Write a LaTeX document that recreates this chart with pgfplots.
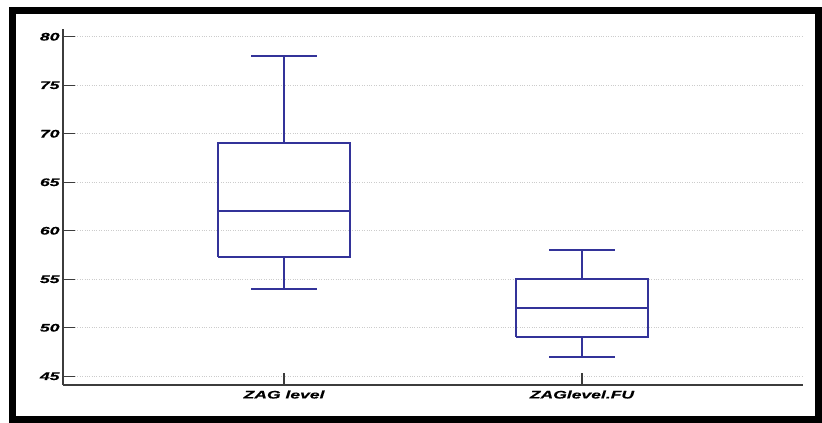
\documentclass[border=0pt]{standalone}
\usepackage{fontspec}
\setmainfont{Liberation Sans}
\newfontfamily\widefont[FakeStretch=1.6,FakeBold=0.5]{Liberation Sans}
\usepackage{pgfplots}
\pgfplotsset{compat=1.18}
\definecolor{boxblue}{RGB}{51,51,153}
\definecolor{axgray}{RGB}{60,60,60}
\begin{document}
\begin{tikzpicture}
\path[use as bounding box] (0,0) rectangle (822bp,423bp);
\fill[white] (0,0) rectangle (822bp,423bp);
\begin{axis}[
  at={(63bp,38bp)}, anchor=south west,
  scale only axis, width=740bp, height=356bp,
  xmin=-0.742, xmax=1.742, ymin=44.1, ymax=80.8,
  axis x line*=bottom, axis y line*=left,
  axis line style={axgray, line width=1.3pt},
  xtick={0,1}, xticklabels={ZAG level, ZAGlevel.FU},
  ytick={45,50,...,80},
  tick align=inside,
  major tick length=12bp,
  tick style={axgray, line width=1.3pt},
  ymajorgrids,
  grid style={gray!40, dotted, line width=0.6pt},
  tick label style={font=\widefont\fontsize{11}{13}\selectfont\bfseries\itshape},
  /pgf/number format/assume math mode=true,
  yticklabel style={xshift=0bp},
  xticklabel style={yshift=-2bp},
  bx/.style={boxblue, solid, mark=none, line width=2pt},
]
% box 1: lw 54, q1 57.3, med 62, q3 69, uw 78
\addplot[bx] coordinates {(-0.223,57.3) (0.223,57.3) (0.223,69) (-0.223,69) (-0.223,57.3)};
\addplot[bx] coordinates {(-0.223,62) (0.223,62)};
\addplot[bx] coordinates {(0,69) (0,78)};
\addplot[bx] coordinates {(0,57.3) (0,54)};
\addplot[bx] coordinates {(-0.11,78) (0.11,78)};
\addplot[bx] coordinates {(-0.11,54) (0.11,54)};
% box 2: lw 47, q1 49, med 52, q3 55, uw 58
\addplot[bx] coordinates {(0.777,49) (1.223,49) (1.223,55) (0.777,55) (0.777,49)};
\addplot[bx] coordinates {(0.777,52) (1.223,52)};
\addplot[bx] coordinates {(1,55) (1,58)};
\addplot[bx] coordinates {(1,49) (1,47)};
\addplot[bx] coordinates {(0.89,58) (1.11,58)};
\addplot[bx] coordinates {(0.89,47) (1.11,47)};
\end{axis}
\draw[black, line width=7bp] (12.5bp,3.5bp) rectangle (818.5bp,412.5bp);
\end{tikzpicture}
\end{document}
